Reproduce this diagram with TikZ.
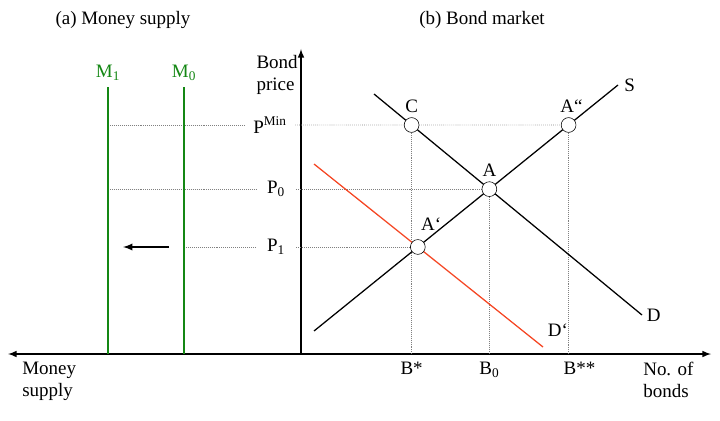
\documentclass[tikz,border=0pt]{standalone}
\usepackage{fontspec}
\setmainfont{Liberation Serif}
\usetikzlibrary{positioning}
\definecolor{moneygreen}{RGB}{20,135,20}
\definecolor{shiftred}{RGB}{245,70,35}

\begin{document}
\begin{tikzpicture}[x=0.025cm,y=-0.025cm,
	font=\fontsize{13.5}{15.5}\selectfont,
	axis/.style={line width=1.1pt,>=latex},
	curve/.style={line width=0.9pt},
	moneyline/.style={line width=1.3pt,moneygreen},
	guide/.style={densely dotted,gray,thin},
	eqpt/.style={circle,draw,fill=white,thin,minimum size=0.37cm,inner sep=0pt},
	pricelab/.style={minimum width=1cm,inner sep=0pt}]
	\useasboundingbox (0,0) rectangle (720,420);
	
	%axes
	\coordinate (origin) at (301,354);
	\coordinate (ytop)   at (301,49);
	\coordinate (xleft)  at (8,354);
	\coordinate (xright) at (711,354);
	\draw[axis,<->] (xleft)--(xright);		%horizontal axis
	\draw[axis,->] (origin)--(ytop);		%vertical axis
	
	%curve end points
	\coordinate (S0) at (314,331);	\coordinate (S1) at (618,85);
	\coordinate (D0) at (374,94);	\coordinate (D1) at (642,315);
	\coordinate (Dp0) at (314,164);	\coordinate (Dp1) at (543,347);
	\coordinate (m1top) at (108,87);
	\coordinate (m0top) at (184,87);
	\coordinate (pmin) at (301,125);	\coordinate (pminR) at (711,125);
	\coordinate (labx) at (276,0);
	
	%equilibrium points
	\coordinate (A)  at (intersection of S0--S1 and D0--D1);
	\coordinate (A1) at (intersection of S0--S1 and Dp0--Dp1);
	\coordinate (C)  at (intersection of pmin--pminR and D0--D1);
	\coordinate (A2) at (intersection of pmin--pminR and S0--S1);
	
	%price labels
	\node[pricelab,minimum width=1.25cm] (pminlab) at (270,125) {P\textsuperscript{Min}};
	\node[pricelab] (p0lab) at (labx |- A)  {P\textsubscript{0}};
	\node[pricelab] (p1lab) at (labx |- A1) {P\textsubscript{1}};
	
	%guides
	\draw[guide] (m1top |- pmin)--(pminlab.west);
	\draw[guide] (pminlab.east)--(A2);
	\draw[guide] (m1top |- A)--(p0lab.west);
	\draw[guide] (p0lab.east)--(A);
	\draw[guide] (m0top |- A1)--(p1lab.west);
	\draw[guide] (p1lab.east)--(A1);
	\draw[guide] (C)--(C |- origin);		%B*
	\draw[guide] (A)--(A |- origin);		%B0
	\draw[guide] (A2)--(A2 |- origin);		%B**
	
	%money supply
	\draw[moneyline] (m1top)--(m1top |- origin);
	\draw[moneyline] (m0top)--(m0top |- origin);
	\node[moneygreen,above=1pt of m1top] (m1lab) {M\textsubscript{1}};
	\node[moneygreen,above=1pt of m0top] (m0lab) {M\textsubscript{0}};
	\coordinate (shiftstart) at (169,247);
	\coordinate (shiftend)   at (123,247);
	\draw[line width=1.3pt,->,>=latex] (shiftstart)--(shiftend);	%shift arrow
	
	%supply and demand
	\draw[curve] (S0)--(S1);
	\draw[curve] (D0)--(D1);
	\draw[curve,shiftred] (Dp0)--(Dp1);
	\node[right=1pt of S1] (slab) {S};
	\node[right=0pt of D1] (dlab) {D};
	\node[above right=4pt and 0pt of Dp1] (dplab) {D`};
	
	%points
	\node[eqpt] (Cpt)  at (C)  {};
	\node[eqpt] (Apt)  at (A)  {};
	\node[eqpt] (A1pt) at (A1) {};
	\node[eqpt] (A2pt) at (A2) {};
	\node[above=0pt of Cpt]  {C};
	\node[above=0pt of Apt]  {A};
	\node[above right=4pt and -5pt of A1pt] {A`};
	\node[above=0pt of A2pt,xshift=2pt] {A``};
	
	%axis labels
	\node[below=2pt of C |- origin] (bstar) {B*};
	\node[below=2pt of A |- origin] (bzero) {B\textsubscript{0}};
	\node[below=2pt of A2 |- origin,anchor=north west,xshift=-7pt] (bstars) {B**};
	\node[align=left,anchor=north west,inner sep=0pt] (msupply) at (22,362) {Money\\supply};
	\node[align=left,anchor=north west,inner sep=0pt] (nbonds) at (643,362) {No. of\\bonds};
	\node[align=left,anchor=north east,inner sep=0pt] (bprice) at (298,55) {Bond\\price};
	
	%titles
	\node (titlea) at (123,20) {(a) Money supply};
	\node (titleb) at (482,20) {(b) Bond market};
\end{tikzpicture}
\end{document}
